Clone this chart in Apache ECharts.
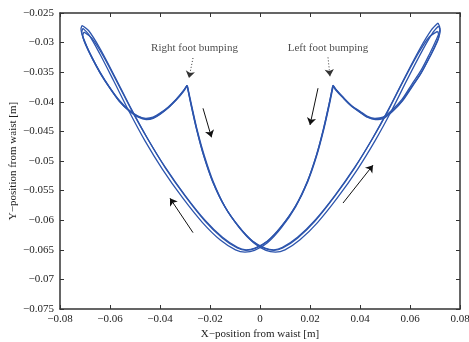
<!DOCTYPE html>
<html>
<head>
<meta charset="utf-8">
<script src="https://cdn.jsdelivr.net/npm/echarts@6/dist/echarts.min.js"></script>
<style>
	html, body { margin: 0; padding: 0; background: #fff; }
	#chart { width: 469px; height: 342px; }
</style>
</head>
<body>
<div id="chart"></div>
<script>
	// axis ticks
	const xTicks = [-0.08, -0.06, -0.04, -0.02, 0, 0.02, 0.04, 0.06, 0.08];
	const yTicks = [-0.075, -0.07, -0.065, -0.06, -0.055, -0.05, -0.045, -0.04, -0.035, -0.03, -0.025];

	// cycle 1: right bump -> bottom -> right peak, right lobe -> left bump, etc.
	const sweepR1 = [[-0.0292,-0.0372],[-0.0276,-0.0405],[-0.0254,-0.0446],[-0.0226,-0.0490],[-0.0190,-0.0534],[-0.0142,-0.0576],[-0.0084,-0.0611],[-0.0030,-0.0635],[0.0020,-0.0647],[0.0055,-0.0650],[0.0090,-0.0646],[0.0150,-0.0629],[0.0220,-0.0600],[0.0300,-0.0558],[0.0380,-0.0510],[0.0450,-0.0462],[0.0515,-0.0412],[0.0580,-0.0358],[0.0640,-0.0310],[0.0685,-0.0279],[0.0712,-0.0267]];
	const lobeR1 = [[0.0712,-0.0267],[0.0720,-0.0276],[0.0704,-0.0296],[0.0676,-0.0321],[0.0644,-0.0347],[0.0608,-0.0370],[0.0568,-0.0396],[0.0528,-0.0414],[0.0492,-0.0426],[0.0460,-0.0428],[0.0428,-0.0424],[0.0400,-0.0416],[0.0368,-0.0407],[0.0332,-0.0392],[0.0304,-0.0379],[0.0292,-0.0372]];
	const sweepL1 = [[0.0292,-0.0372],[0.0276,-0.0405],[0.0254,-0.0446],[0.0226,-0.0490],[0.0190,-0.0534],[0.0142,-0.0576],[0.0084,-0.0611],[0.0030,-0.0635],[-0.0020,-0.0647],[-0.0055,-0.0650],[-0.0090,-0.0646],[-0.0150,-0.0629],[-0.0220,-0.0600],[-0.0300,-0.0558],[-0.0380,-0.0510],[-0.0450,-0.0462],[-0.0515,-0.0412],[-0.0580,-0.0358],[-0.0640,-0.0310],[-0.0685,-0.0280],[-0.0712,-0.0271]];
	const lobeL1 = [[-0.0712,-0.0271],[-0.0716,-0.0277],[-0.0700,-0.0299],[-0.0672,-0.0325],[-0.0640,-0.0350],[-0.0604,-0.0374],[-0.0564,-0.0397],[-0.0524,-0.0414],[-0.0488,-0.0424],[-0.0456,-0.0428],[-0.0428,-0.0426],[-0.0400,-0.0419],[-0.0368,-0.0409],[-0.0336,-0.0396],[-0.0308,-0.0382],[-0.0292,-0.0372]];

	// cycle 2
	const sweepR2 = [[-0.0290,-0.0374],[-0.0273,-0.0407],[-0.0251,-0.0448],[-0.0222,-0.0492],[-0.0186,-0.0536],[-0.0138,-0.0579],[-0.0080,-0.0614],[-0.0026,-0.0638],[0.0024,-0.0651],[0.0062,-0.0654],[0.0100,-0.0650],[0.0160,-0.0633],[0.0230,-0.0604],[0.0310,-0.0562],[0.0390,-0.0514],[0.0460,-0.0466],[0.0525,-0.0416],[0.0588,-0.0363],[0.0646,-0.0316],[0.0690,-0.0284],[0.0714,-0.0272]];
	const lobeR2 = [[0.0714,-0.0272],[0.0721,-0.0280],[0.0706,-0.0300],[0.0679,-0.0324],[0.0647,-0.0350],[0.0611,-0.0373],[0.0571,-0.0398],[0.0531,-0.0416],[0.0494,-0.0428],[0.0461,-0.0430],[0.0429,-0.0426],[0.0401,-0.0418],[0.0369,-0.0408],[0.0333,-0.0393],[0.0305,-0.0380],[0.0293,-0.0373]];
	const sweepL2 = [[0.0293,-0.0373],[0.0277,-0.0406],[0.0255,-0.0447],[0.0227,-0.0491],[0.0191,-0.0535],[0.0143,-0.0577],[0.0085,-0.0613],[0.0030,-0.0638],[-0.0022,-0.0651],[-0.0060,-0.0654],[-0.0098,-0.0650],[-0.0160,-0.0633],[-0.0230,-0.0604],[-0.0310,-0.0562],[-0.0390,-0.0514],[-0.0460,-0.0466],[-0.0524,-0.0416],[-0.0586,-0.0364],[-0.0642,-0.0318],[-0.0684,-0.0287],[-0.0708,-0.0276]];
	const lobeL2 = [[-0.0708,-0.0276],[-0.0713,-0.0282],[-0.0698,-0.0302],[-0.0670,-0.0327],[-0.0638,-0.0352],[-0.0602,-0.0376],[-0.0562,-0.0399],[-0.0522,-0.0416],[-0.0487,-0.0426],[-0.0455,-0.0430],[-0.0427,-0.0428],[-0.0399,-0.0421],[-0.0367,-0.0410],[-0.0335,-0.0397],[-0.0307,-0.0383],[-0.0291,-0.0373]];

	// cycle 3
	const sweepR3 = [[-0.0291,-0.0373],[-0.0275,-0.0406],[-0.0253,-0.0447],[-0.0225,-0.0491],[-0.0189,-0.0535],[-0.0141,-0.0577],[-0.0083,-0.0612],[-0.0029,-0.0636],[0.0021,-0.0648],[0.0056,-0.0651],[0.0091,-0.0647],[0.0151,-0.0630],[0.0221,-0.0601],[0.0300,-0.0559],[0.0378,-0.0512],[0.0446,-0.0465],[0.0510,-0.0417],[0.0572,-0.0366],[0.0628,-0.0322],[0.0676,-0.0291],[0.0710,-0.0281]];
	const lobeR3 = [[0.0710,-0.0281],[0.0716,-0.0289],[0.0700,-0.0307],[0.0672,-0.0330],[0.0640,-0.0354],[0.0604,-0.0376],[0.0565,-0.0400],[0.0526,-0.0417],[0.0491,-0.0427],[0.0459,-0.0429],[0.0427,-0.0425],[0.0399,-0.0417],[0.0367,-0.0408],[0.0331,-0.0393],[0.0303,-0.0380],[0.0291,-0.0373]];
	const sweepL3 = [[0.0291,-0.0373],[0.0275,-0.0406],[0.0253,-0.0447],[0.0225,-0.0491],[0.0189,-0.0535],[0.0141,-0.0577],[0.0083,-0.0612],[0.0029,-0.0636],[-0.0021,-0.0648],[-0.0056,-0.0651],[-0.0091,-0.0647],[-0.0151,-0.0630],[-0.0221,-0.0601],[-0.0300,-0.0559],[-0.0378,-0.0512],[-0.0446,-0.0465],[-0.0510,-0.0417],[-0.0570,-0.0368],[-0.0625,-0.0324],[-0.0672,-0.0293],[-0.0704,-0.0282]];
	const lobeL3 = [[-0.0704,-0.0282],[-0.0709,-0.0288],[-0.0694,-0.0307],[-0.0667,-0.0330],[-0.0636,-0.0354],[-0.0600,-0.0377],[-0.0561,-0.0400],[-0.0521,-0.0416],[-0.0486,-0.0425],[-0.0455,-0.0429],[-0.0427,-0.0427],[-0.0399,-0.0420],[-0.0367,-0.0410],[-0.0335,-0.0396],[-0.0307,-0.0382],[-0.0292,-0.0372]];

	// direction arrows [from, to]
	const motionArrows = [
		[[-0.0228, -0.0411], [-0.0194, -0.0460]],
		[[-0.0268, -0.0621], [-0.0360, -0.0563]],
		[[0.0232, -0.0377], [0.0200, -0.0439]],
		[[0.0332, -0.0571], [0.0452, -0.0507]]
	];
	const bumpArrows = [
		[[-0.0268, -0.0326], [-0.0284, -0.0360]],
		[[0.0272, -0.0325], [0.0280, -0.0357]]
	];
	const bumpLabels = [
		[-0.0262, -0.0310, "Right foot bumping"],
		[0.0272, -0.0310, "Left foot bumping"]
	];

	const curves = [sweepR1, lobeR1, sweepL1, lobeL1, sweepR2, lobeR2, sweepL2, lobeL2, sweepR3, lobeR3, sweepL3, lobeL3];

	const serif = "Liberation Serif";
	const ink = "#222";
	const minus = v => String(v).replace("-", "\u2212");

	// shared axis look: boxed frame, ticks pointing in
	const frameAxis = {
		axisLine: { onZero: false, lineStyle: { color: "#333", width: 1.5 } },
		axisTick: { inside: true, length: 4, lineStyle: { color: "#333" } },
		splitLine: { show: false }
	};

	const initChart = () => {
		const chart = echarts.init(document.getElementById("chart"));

		const curveSeries = curves.map(pts => ({
			type: "line",
			data: pts,
			showSymbol: false,
			smooth: 0.3,
			lineStyle: { color: "#2d55ad", width: 1.3 },
			silent: true,
			z: 3
		}));

		const option = {
			animation: false,
			grid: { left: 60, right: 9, top: 13, bottom: 33, containLabel: false, outerBoundsMode: "none" },
			xAxis: [
				{
					...frameAxis,
					type: "value",
					min: -0.08,
					max: 0.08,
					interval: 0.02,
					name: "X\u2212position from waist [m]",
					nameLocation: "middle",
					nameGap: 20,
					nameMoveOverlap: false,
					nameTextStyle: { fontFamily: serif, fontSize: 11, color: ink },
					axisLabel: { fontFamily: serif, fontSize: 11, color: ink, margin: 5, formatter: minus }
				},
				{
					...frameAxis,
					type: "value",
					position: "top",
					min: -0.08,
					max: 0.08,
					interval: 0.02,
					axisLabel: { show: false }
				}
			],
			yAxis: [
				{
					...frameAxis,
					type: "value",
					min: -0.075,
					max: -0.025,
					interval: 0.005,
					name: "Y\u2212position from waist [m]",
					nameLocation: "middle",
					nameGap: 41,
					nameMoveOverlap: false,
					nameTextStyle: { fontFamily: serif, fontSize: 11, color: ink },
					axisLabel: { fontFamily: serif, fontSize: 11, color: ink, margin: 6, formatter: minus }
				},
				{
					...frameAxis,
					type: "value",
					position: "right",
					min: -0.075,
					max: -0.025,
					interval: 0.005,
					axisLabel: { show: false }
				}
			],
			series: [
				...curveSeries,
				{
					type: "lines",
					coordinateSystem: "cartesian2d",
					data: motionArrows.map(c => ({ coords: c })),
					symbol: ["none", "arrow"],
					symbolSize: 7,
					lineStyle: { color: "#111", width: 1, opacity: 1 },
					silent: true,
					z: 4
				},
				{
					type: "lines",
					coordinateSystem: "cartesian2d",
					data: bumpArrows.map(c => ({ coords: c })),
					symbol: ["none", "arrow"],
					symbolSize: 7,
					lineStyle: { color: "#333", width: 1, type: [1, 2], opacity: 1 },
					silent: true,
					z: 4
				},
				{
					type: "scatter",
					data: bumpLabels,
					symbolSize: 0,
					silent: true,
					label: {
						show: true,
						position: "inside",
						formatter: p => p.value[2],
						fontFamily: serif,
						fontSize: 11,
						color: ink
					}
				}
			]
		};

		chart.setOption(option);
	};

	initChart();
</script>
</body>
</html>
